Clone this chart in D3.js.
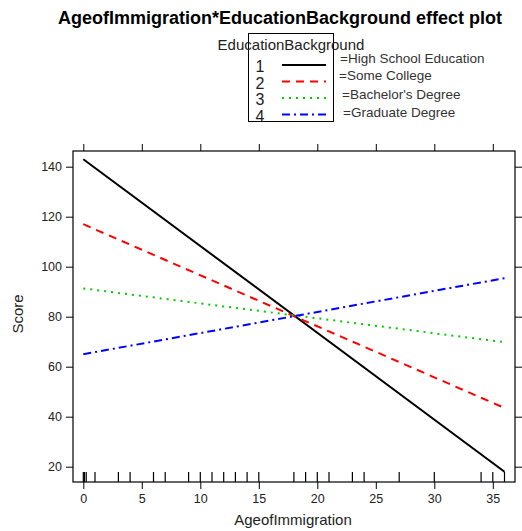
<!DOCTYPE html>
<html>
<head>
<meta charset="utf-8">
<script src="https://cdn.jsdelivr.net/npm/d3@7"></script>
<style>
body { margin: 0; background: #fff; }
text { font-family: "Liberation Sans", Arial, sans-serif; }
</style>
</head>
<body>
<svg id="chart"></svg>
<script>
var width = 522;
var height = 531;

// data
var levels = ["1", "2", "3", "4"];
var levelNames = ["=High School Education", "=Some College", "=Bachelor's Degree", "=Graduate Degree"];
var ageRange = [0, 36];
var scoreAt0 = [143, 117, 91.3, 65];
var scoreAt36 = [18, 43.5, 69.8, 95.4];
var rugAges = [0, 0.1, 0.25, 1, 3, 4, 6, 7, 9, 10, 11, 12, 13, 14, 15, 18, 19, 20, 21, 23, 24, 27, 30, 34, 35, 36];
var xTicks = [0, 5, 10, 15, 20, 25, 30, 35];
var yTicks = [20, 40, 60, 80, 100, 120, 140];

var colors = ["#000000", "#ff0000", "#00cc00", "#0000ff"];
var dashes = [null, "8,6", "2,5", "8,4,2,4"];

var panel = { left: 73, right: 515, top: 151, bottom: 482 };

var svg = d3.select("#chart")
  .attr("width", width)
  .attr("height", height);

var x = d3.scaleLinear()
  .domain([0, 35])
  .range([83.3, 492.8]);

var y = d3.scaleLinear()
  .domain([20, 140])
  .range([466.7, 166.7]);

// title
svg.append("text")
  .attr("x", 280)
  .attr("y", 24)
  .attr("text-anchor", "middle")
  .attr("font-size", "18px")
  .attr("font-weight", "bold")
  .text("AgeofImmigration*EducationBackground effect plot");

// legend
var leg = svg.append("g");
leg.append("rect")
  .attr("x", 248.5).attr("y", 33.5)
  .attr("width", 85).attr("height", 88)
  .attr("fill", "none").attr("stroke", "#000").attr("stroke-width", 1);
leg.append("text")
  .attr("x", 291).attr("y", 50)
  .attr("text-anchor", "middle")
  .attr("font-size", "15px")
  .attr("fill", "#222")
  .text("EducationBackground");

var items = leg.selectAll(".item")
  .data(levels)
  .enter().append("g")
  .attr("class", "item")
  .attr("transform", function (d, i) { return "translate(0," + (66 + i * 16.5) + ")"; });

items.append("text")
  .attr("x", 260).attr("y", 6)
  .attr("text-anchor", "middle")
  .attr("font-size", "16px")
  .attr("fill", "#222")
  .text(function (d) { return d; });

items.append("line")
  .attr("x1", 282).attr("x2", 326)
  .attr("y1", -1).attr("y2", -1)
  .attr("stroke", function (d, i) { return colors[i]; })
  .attr("stroke-width", 2)
  .attr("stroke-dasharray", function (d, i) { return dashes[i]; });

var labelX = [340, 339, 342, 343];
var labelY = [63, 80, 99, 117];
leg.selectAll(".lab")
  .data(levelNames)
  .enter().append("text")
  .attr("class", "lab")
  .attr("x", function (d, i) { return labelX[i]; })
  .attr("y", function (d, i) { return labelY[i]; })
  .attr("font-family", "Lato, 'Open Sans', sans-serif")
  .attr("font-size", "13.5px")
  .attr("fill", "#333")
  .text(function (d) { return d; });

// panel box
svg.append("rect")
  .attr("x", panel.left).attr("y", panel.top)
  .attr("width", panel.right - panel.left)
  .attr("height", panel.bottom - panel.top)
  .attr("fill", "none").attr("stroke", "#000").attr("stroke-width", 1.2);

// axes
var bottomAxis = d3.axisBottom(x).tickValues(xTicks).tickSize(7).tickPadding(5);
var topAxis = d3.axisTop(x).tickValues(xTicks).tickSize(7).tickFormat("");
var leftAxis = d3.axisLeft(y).tickValues(yTicks).tickSize(7).tickPadding(4);
var rightAxis = d3.axisRight(y).tickValues(yTicks).tickSize(7).tickFormat("");

function styleAxis(g) {
  g.select(".domain").remove();
  g.selectAll("line").attr("stroke", "#000");
  g.selectAll("text").attr("font-size", "12.5px").attr("fill", "#222")
    .attr("font-family", "'Liberation Sans', Arial, sans-serif");
}

svg.append("g").attr("transform", "translate(0," + panel.bottom + ")").call(bottomAxis).call(styleAxis);
svg.append("g").attr("transform", "translate(0," + panel.top + ")").call(topAxis).call(styleAxis);
svg.append("g").attr("transform", "translate(" + panel.left + ",0)").call(leftAxis).call(styleAxis);
svg.append("g").attr("transform", "translate(" + panel.right + ",0)").call(rightAxis).call(styleAxis);

// axis titles
svg.append("text")
  .attr("x", 293).attr("y", 525)
  .attr("text-anchor", "middle")
  .attr("font-size", "15px").attr("fill", "#222")
  .text("AgeofImmigration");
svg.append("text")
  .attr("transform", "translate(23,314) rotate(-90)")
  .attr("text-anchor", "middle")
  .attr("font-size", "15px").attr("fill", "#222")
  .text("Score");

// rug
svg.append("g").selectAll("line")
  .data(rugAges)
  .enter().append("line")
  .attr("x1", function (d) { return x(d); })
  .attr("x2", function (d) { return x(d); })
  .attr("y1", panel.bottom)
  .attr("y2", panel.bottom - 10)
  .attr("stroke", "#000")
  .attr("stroke-width", 1.2);

// effect lines
var lineData = levels.map(function (d, i) {
  return [[ageRange[0], scoreAt0[i]], [ageRange[1], scoreAt36[i]]];
});
var line = d3.line()
  .x(function (d) { return x(d[0]); })
  .y(function (d) { return y(d[1]); });

svg.append("g").selectAll("path")
  .data(lineData)
  .enter().append("path")
  .attr("d", line)
  .attr("fill", "none")
  .attr("stroke", function (d, i) { return colors[i]; })
  .attr("stroke-width", 2)
  .attr("stroke-dasharray", function (d, i) { return dashes[i]; });
</script>
</body>
</html>
